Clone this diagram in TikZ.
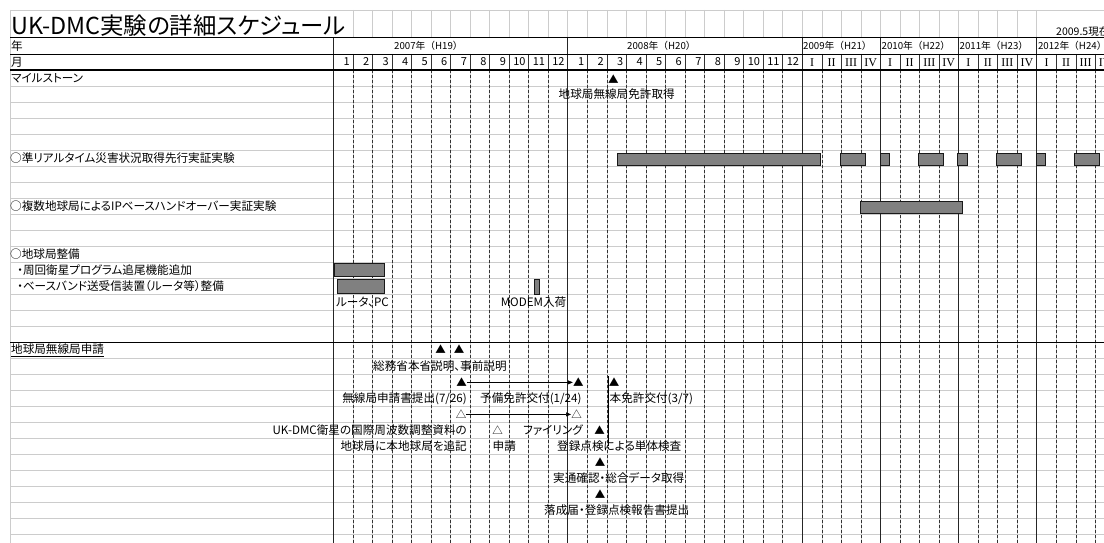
\documentclass[tikz,border=0pt]{standalone}
\usepackage{fontspec}
\setmainfont{Noto Sans CJK JP}[RawFeature=+palt]
\newfontfamily\hdf{Noto Sans CJK JP}
\newfontfamily\romf{Liberation Serif}
\usetikzlibrary{arrows.meta}
\begin{document}
\begin{tikzpicture}[x=1pt,y=-1pt,
  gridl/.style={draw=gray!40,line width=0.6pt},
  yearl/.style={draw=black!85,line width=0.9pt},
  mline/.style={draw=black!80,line width=0.5pt},
  dline/.style={draw=black!80,line width=0.6pt,dash pattern=on 3pt off 2pt},
  heavy/.style={draw=black,line width=1.3pt},
  bar/.style={draw=black!90,fill=black!50,line width=0.7pt},
  lbl/.style={inner sep=0pt,font=\fontsize{11.6}{12}\selectfont},
  hdr/.style={inner sep=0pt,font=\hdf\fontsize{9.7}{12}\selectfont},
  num/.style={inner sep=0pt,font=\hdf\fontsize{11}{12}\selectfont},
  mk/.style={inner sep=0pt,font=\hdf\fontsize{10.5}{12}\selectfont},
  arr/.style={draw=black,line width=0.6pt,-{Triangle[length=5pt,width=4pt]}}
]
\path[use as bounding box] (0,0) rectangle (1104,543);
\clip (0,0) rectangle (1104,543);
\fill[white] (0,0) rectangle (1104,543);
% gridlines
\draw[gridl] (10,10) -- (1104,10);
\foreach \k in {1,...,29} \draw[gridl] (10,{70+16.02*\k}) -- (1104,{70+16.02*\k});
\draw[gridl] (10,10) -- (10,543);
\foreach \k in {1,...,36} \draw[gridl] ({333.3+19.54*\k},10) -- ({333.3+19.54*\k},37.7);
\foreach \k in {1,...,11,13,14,...,23,25,26,27,29,30,31,33,34,35,37,38,39} {
  \draw[gridl] ({333.3+19.54*\k},70) -- ({333.3+19.54*\k},543);
  \draw[dline] ({333.3+19.54*\k},70) -- ({333.3+19.54*\k},543);
  \draw[mline] ({333.3+19.54*\k},54) -- ({333.3+19.54*\k},70);
}
\foreach \k in {0,12,24,28,32,36} \draw[yearl] ({333.3+19.54*\k},37.7) -- ({333.3+19.54*\k},543);
\draw[heavy] (10,37.7) -- (1104,37.7);
\draw[draw=black,line width=0.8pt] (10,54) -- (1104,54);
\draw[heavy] (10,70) -- (1104,70);
\draw[heavy] (10,342.3) -- (1104,342.3);

% title
\node[inner sep=0pt,anchor=base west,font=\fontsize{23.4}{25}\selectfont] (title) at (11,34.8) {UK-DMC実験の詳細スケジュール};
\node[inner sep=0pt,anchor=base west,font=\hdf\fontsize{10.5}{12}\selectfont] (asof) at (1056,35.5) {2009.5現在};

% header
\node[lbl,anchor=west] (nen) at (11,46) {年};
\node[lbl,anchor=west] (tsuki) at (11,62) {月};
\node[hdr,anchor=west] (y07) at (394,46) {2007年（H19）};
\node[hdr,anchor=west] (y08) at (627,46) {2008年（H20）};
\node[hdr,anchor=west] (y09) at (803,46) {2009年（H21）};
\node[hdr,anchor=west] (y10) at (881.5,46) {2010年（H22）};
\node[hdr,anchor=west] (y11) at (959.5,46) {2011年（H23）};
\node[hdr,anchor=west] (y12) at (1037.8,46) {2012年（H24）};
\foreach \m in {1,...,12} {
  \node[num,anchor=east] (ma\m) at ({333.3+19.54*\m-3},62) {\m};
  \node[num,anchor=east] (mb\m) at ({333.3+19.54*(\m+12)-3},62) {\m};
}
\foreach \q/\r in {0/I,1/II,2/III,3/IV} \foreach \y in {0,1,2,3}
  \node[inner sep=0pt,font=\romf\fontsize{12}{12}\selectfont] (q\y\q) at ({333.3+19.54*(24+4*\y+\q+0.5)},62.5) {\r};

% left labels
\node[lbl,anchor=west] (ms) at (11,78.01) {マイルストーン};
\node[lbl,anchor=west] (ex1) at (10,158.11) {○準リアルタイム災害状況取得先行実証実験};
\node[lbl,anchor=west] (ex2) at (10,206.17) {○複数地球局によるIPベースハンドオーバー実証実験};
\node[lbl,anchor=west] (gs) at (10,254.23) {○地球局整備};
\node[lbl,anchor=west] (gs1) at (17,270.25) {・周回衛星プログラム追尾機能追加};
\node[lbl,anchor=west] (gs2) at (17,286.27) {・ベースバンド送受信装置（ルータ等）整備};
\node[lbl,anchor=west] (lic) at (11,350.35) {\underline{地球局無線局申請}};

% milestone
\node[mk] (m0) at (613.3,79) {▲};
\node[lbl] (m0t) at (616.7,94.03) {地球局無線局免許取得};

% bars
\draw[bar] (617.3,153) rectangle (820.7,165.3);
\draw[bar] (840.7,153) rectangle (865.7,165.3);
\draw[bar] (880,153) rectangle (889.7,165.3);
\draw[bar] (918.3,153) rectangle (943.3,165.3);
\draw[bar] (957.7,153) rectangle (967.7,165.3);
\draw[bar] (996.7,153) rectangle (1021.7,165.3);
\draw[bar] (1036,153) rectangle (1045.3,165.3);
\draw[bar] (1074.3,153) rectangle (1099,165.3);
\draw[bar] (860.7,201.7) rectangle (962,213.3);
\draw[bar] (334,263.3) rectangle (384.3,276);
\draw[bar] (337,279) rectangle (384.3,293.3);
\draw[bar] (534.3,279) rectangle (539,294);
\node[lbl,anchor=west] (rt) at (336,302.29) {ルータ、PC};
\node[lbl] (modem) at (533.5,302.29) {MODEM入荷};

% license section
\node[mk] (a1) at (440.7,349.5) {▲};
\node[mk] (a2) at (459,349.5) {▲};
\node[lbl,anchor=west] (s1) at (373,366.37) {総務省本省説明、事前説明};
\node[mk] (b1) at (461.7,382.4) {▲};
\node[mk] (b2) at (578.3,382.4) {▲};
\node[mk] (b3) at (614,382.4) {▲};
\draw[arr] (b1.east) -- (b2.west);
\node[lbl,anchor=east] (s2) at (467,398.41) {無線局申請書提出(7/26)};
\node[lbl,anchor=west] (s3) at (480,398.41) {予備免許交付(1/24)};
\node[lbl,anchor=west] (s4) at (609.5,398.41) {本免許交付(3/7)};
\node[mk] (c1) at (461,414.4) {△};
\node[mk] (c2) at (576.5,414.4) {△};
\draw[arr] (c1.east) -- (c2.west);
\node[lbl,anchor=east] (s5) at (467,430.45) {UK-DMC衛星の国際周波数調整資料の};
\node[mk] (d1) at (497.7,430.45) {△};
\node[lbl,anchor=east] (s6) at (583,430.45) {ファイリング};
\node[mk] (d2) at (599.5,430.45) {▲};
\node[lbl,anchor=east] (s7) at (467,446.47) {地球局に本地球局を追記};
\node[lbl,anchor=west] (s8) at (492.5,446.47) {申請};
\node[lbl,anchor=west] (s9) at (557,446.47) {登録点検による単体検査};
\node[mk] (e1) at (600,462.49) {▲};
\node[lbl,anchor=west] (s10) at (553,478.51) {実通確認・総合データ取得};
\node[mk] (e2) at (600,494.53) {▲};
\node[lbl,anchor=west] (s11) at (544,510.55) {落成届・登録点検報告書提出};
\coordinate (v1) at (608,376);
\coordinate (v2) at (608,446);
\draw[draw=black,line width=0.7pt] (v1) -- (v2);
\end{tikzpicture}
\end{document}
